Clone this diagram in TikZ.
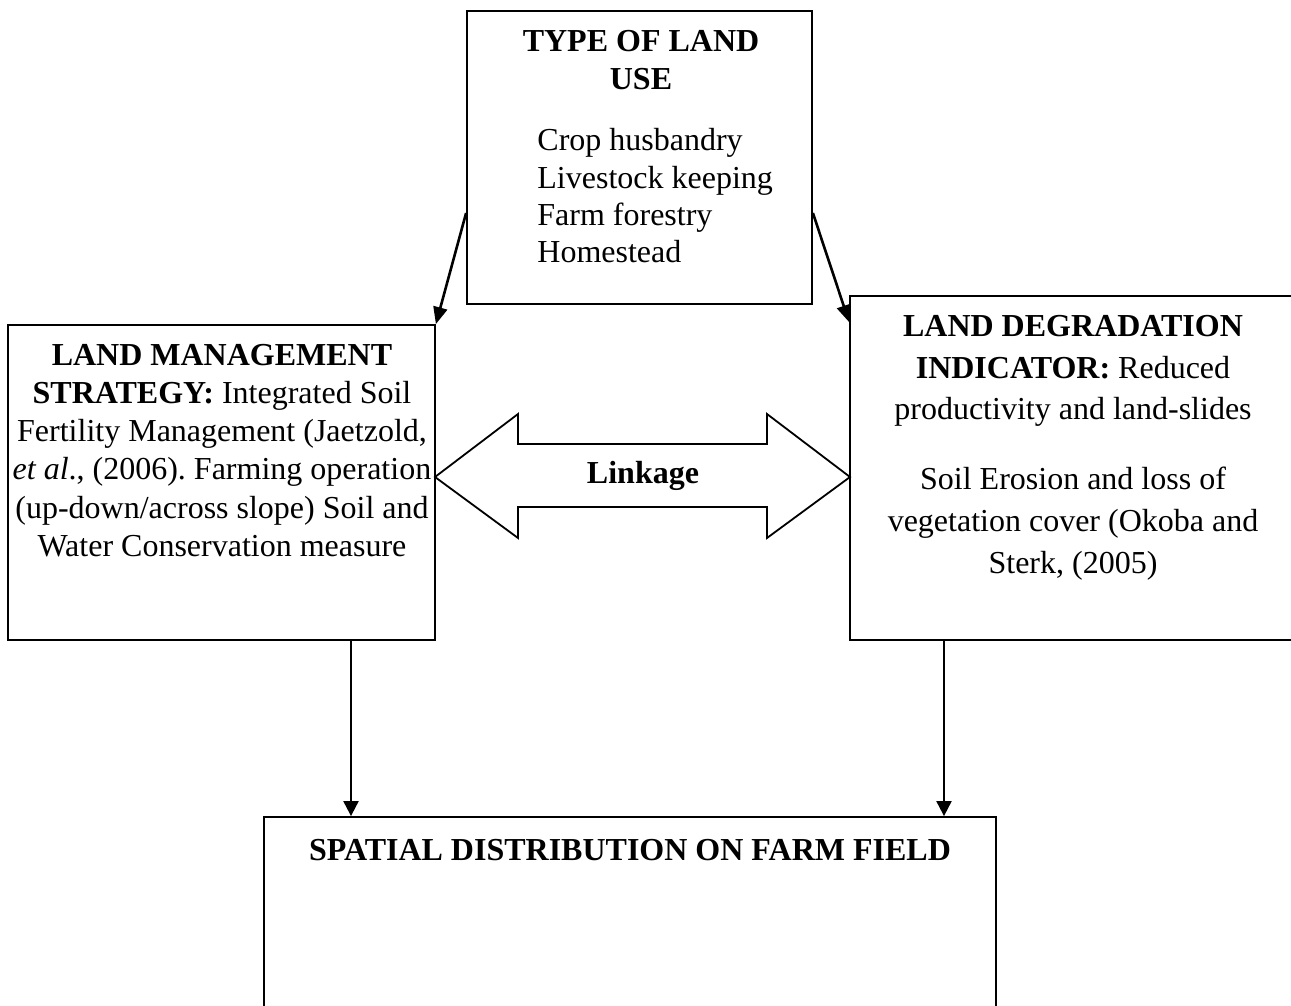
\documentclass[tikz,border=0pt]{standalone}
\usepackage{fontspec}
\setmainfont{Liberation Serif}
\usetikzlibrary{arrows.meta,calc}
\frenchspacing
\begin{document}
\begin{tikzpicture}[x=0.5pt,y=-0.5pt,
  box/.style={draw,line width=0.9pt,inner sep=0pt,rectangle},
  txt/.style={inner sep=0pt,anchor=base,font=\fontsize{16pt}{19pt}\selectfont},
  txtl/.style={txt,anchor=base west},
  arr/.style={line width=1pt,-{Triangle[length=7.5pt,width=7.5pt]}},
  darr/.style={line width=1.3pt,-{Triangle[length=8.5pt,width=7pt]}}]
\useasboundingbox (0,0) rectangle (1291,1006);
\clip (0,0) rectangle (1291,1006);
\fill[white] (0,0) rectangle (1291,1006);
% boxes
\node[box,minimum width=345*0.5pt,minimum height=293*0.5pt] (tl) at (639.5,157.5) {};
\node[box,minimum width=427*0.5pt,minimum height=315*0.5pt] (lm) at (221.5,482.5) {};
\node[box,minimum width=446*0.5pt,minimum height=344*0.5pt] (ld) at (1073,468) {};
\node[box,minimum width=732*0.5pt,minimum height=213*0.5pt] (sp) at (630,923.5) {};
% top box text
\node[txt] (t1) at (641,52) {\textbf{TYPE OF LAND}};
\node[txt] (t2) at (641,90) {\textbf{USE}};
\node[txtl] (t3) at (537,151) {Crop husbandry};
\node[txtl] (t4) at (537,189) {Livestock keeping};
\node[txtl] (t5) at (537,226) {Farm forestry};
\node[txtl] (t6) at (537,263) {Homestead};
% left box text
\node[txt] (l1) at (222,365) {\textbf{LAND MANAGEMENT}};
\node[txt] (l2) at (222,403) {\textbf{STRATEGY:} Integrated Soil};
\node[txt] (l3) at (222,441) {Fertility Management (Jaetzold,};
\node[txt] (l4) at (222,479) {\textit{et al}., (2006). Farming operation};
\node[txt] (l5) at (222,518) {(up-down/across slope) Soil and};
\node[txt] (l6) at (222,556) {Water Conservation measure};
% right box text
\node[txt] (r1) at (1073,336) {\textbf{LAND DEGRADATION}};
\node[txt] (r2) at (1073,378) {\textbf{INDICATOR:} Reduced};
\node[txt] (r3) at (1073,419) {productivity and land-slides};
\node[txt] (r4) at (1073,489) {Soil Erosion and loss of};
\node[txt] (r5) at (1073,531) {vegetation cover (Okoba and};
\node[txt] (r6) at (1073,573) {Sterk, (2005)};
% bottom box text
\node[txt] (s1) at (630,860) {\textbf{SPATIAL DISTRIBUTION ON FARM FIELD}};
% linkage double arrow
\draw[line width=0.9pt,line join=miter] (435,477) -- (518,414) -- (518,444) -- (767,444) -- (767,414) -- (850,477) -- (767,538) -- (767,507) -- (518,507) -- (518,538) -- cycle;
\node[txt] (lk) at (643,483) {\textbf{Linkage}};
% connectors
\draw[darr] ([yshift=-27.75pt]tl.west) -- (lm.north east);
\draw[darr] ([yshift=-27.75pt]tl.east) -- ([yshift=-13.5pt]ld.north west);
\coordinate (c1) at ([xshift=64.75pt]lm.south);
\coordinate (c2) at ([xshift=-64.5pt]ld.south);
\draw[arr] (c1) -- (c1 |- sp.north);
\draw[arr] (c2) -- (c2 |- sp.north);
\end{tikzpicture}
\end{document}
